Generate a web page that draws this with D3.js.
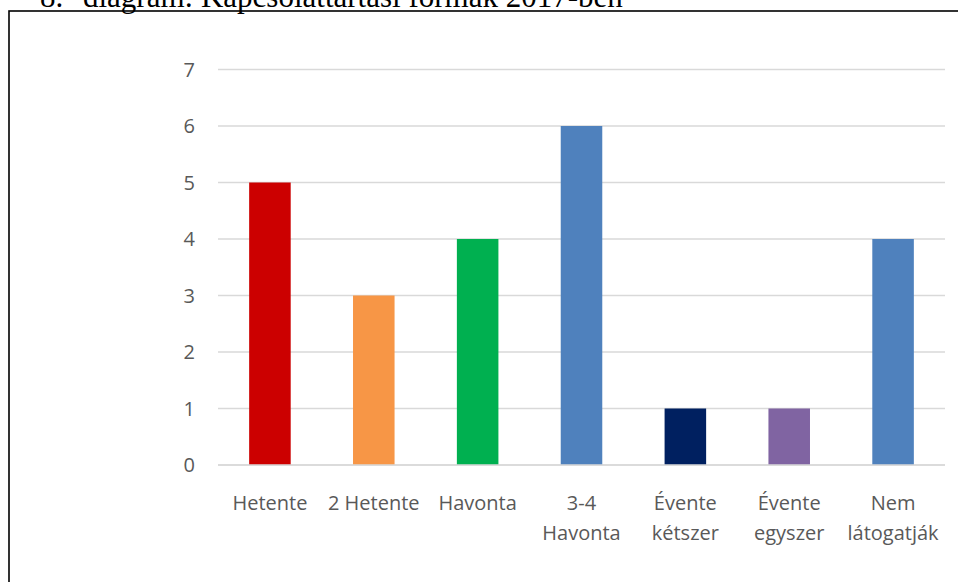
<!DOCTYPE html>
<html><head><meta charset="utf-8">
<script src="https://cdn.jsdelivr.net/npm/d3@7"></script>
<style>body{margin:0;background:#fff}svg{display:block}</style>
</head><body>
<script>
const categories = [["Hetente"],["2 Hetente"],["Havonta"],["3-4","Havonta"],["Évente","kétszer"],["Évente","egyszer"],["Nem","látogatják"]];
const values = [5,3,4,6,1,1,4];
const colors = ["#CC0000","#F79646","#00B050","#4F81BD","#002060","#8064A2","#4F81BD"];
const yTicks = [0,1,2,3,4,5,6,7];
const titleNum = "8.";
const titleText = "diagram: Kapcsolattartási formák 2017-ben";

const W=958,H=582;
const svg=d3.select("body").append("svg").attr("width",W).attr("height",H);

// caption (cut off at top)
const tf="Liberation Serif, Times New Roman, serif";
svg.append("text").attr("x",40).attr("y",7).attr("font-family",tf)
  .attr("font-size",31).attr("fill","#000").text(titleNum);
svg.append("text").attr("x",83).attr("y",7).attr("font-family",tf)
  .attr("font-size",31).attr("fill","#000").text(titleText);

// frame
svg.append("rect").attr("x",9).attr("y",11).attr("width",960).attr("height",600)
  .attr("fill","none").attr("stroke","#000").attr("stroke-width",1.6);

const x=d3.scaleBand().domain(d3.range(categories.length)).range([218,945]).paddingInner(0.6).paddingOuter(0.3);
const y=d3.scaleLinear().domain([0,7]).range([465,69.5]);

const g=svg.append("g");
g.selectAll("line.grid").data(yTicks).join("line").attr("class","grid")
  .attr("x1",218).attr("x2",945).attr("y1",d=>y(d)).attr("y2",d=>y(d))
  .attr("stroke","#D9D9D9").attr("stroke-width",1.5);

g.selectAll("text.yl").data(yTicks).join("text").attr("class","yl")
  .attr("x",195).attr("y",d=>y(d)).attr("dy","0.36em").attr("text-anchor","end")
  .attr("font-family","Open Sans, sans-serif").attr("font-size",20).attr("fill","#595959")
  .text(d=>d);

g.selectAll("rect.bar").data(values).join("rect").attr("class","bar")
  .attr("x",(d,i)=>x(i)).attr("width",x.bandwidth())
  .attr("y",d=>y(d)).attr("height",d=>y(0)-y(d))
  .attr("fill",(d,i)=>colors[i]);

g.append("line").attr("x1",218).attr("x2",945).attr("y1",y(0)).attr("y2",y(0))
  .attr("stroke","#D9D9D9").attr("stroke-width",1.5);

const xl=g.selectAll("text.xl").data(categories).join("text").attr("class","xl")
  .attr("text-anchor","middle")
  .attr("font-family","Open Sans, sans-serif").attr("font-size",20).attr("fill","#595959");
xl.each(function(lines,i){
  const el=d3.select(this);
  lines.forEach((ln,j)=>{
    el.append("tspan").attr("x",x(i)+x.bandwidth()/2).attr("y",510+j*30).text(ln);
  });
});
</script>
</body></html>
